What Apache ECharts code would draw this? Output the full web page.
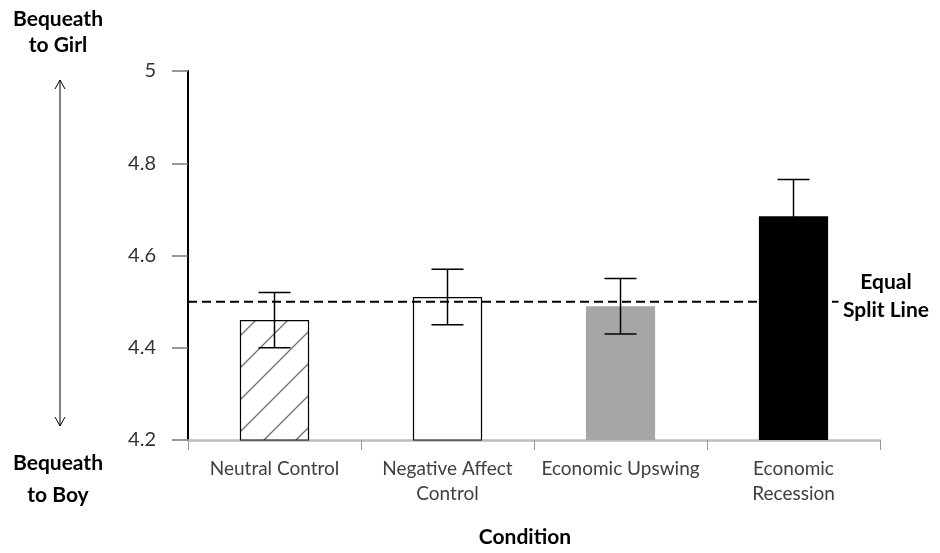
<!DOCTYPE html>
<html><head><meta charset="utf-8">
<script src="https://cdn.jsdelivr.net/npm/echarts@6/dist/echarts.min.js"></script>
<style>html,body{margin:0;padding:0;background:#fff}#c{width:940px;height:553px}</style>
</head><body><div id="c"></div>
<script>
const categories = ['Neutral Control', 'Negative Affect\nControl', 'Economic Upswing', 'Economic\nRecession'];
const means = [4.46, 4.51, 4.49, 4.685];
const errors = [0.06, 0.06, 0.06, 0.08];
const yMin = 4.2, yMax = 5, yStep = 0.2;
const splitValue = 4.5;
const splitLineRange = [-0.5, 3.26];

const FONT = 'Lato, "Open Sans", sans-serif';

// hatch pattern
const pc = document.createElement('canvas');
pc.width = 32; pc.height = 32;
const g = pc.getContext('2d');
g.fillStyle = '#fff'; g.fillRect(0, 0, 32, 32);
g.strokeStyle = '#6e6e6e'; g.lineWidth = 1.3;
g.beginPath();
g.moveTo(-2, 34); g.lineTo(34, -2);
g.moveTo(-4, 4); g.lineTo(4, -4);
g.moveTo(28, 36); g.lineTo(36, 28);
g.stroke();

const barStyles = [
  { color: { image: pc, repeat: 'repeat' }, borderColor: '#000', borderWidth: 1.2 },
  { color: '#fff', borderColor: '#000', borderWidth: 1.2 },
  { color: '#a6a6a6' },
  { color: '#000' }
];

const chart = echarts.init(document.getElementById('c'), null, { renderer: 'canvas' });
chart.setOption({
  backgroundColor: '#fff',
  animation: false,
  grid: { left: 188, right: 60, top: 71, bottom: 113 },
  xAxis: [{
    type: 'category',
    data: categories,
    axisLine: { lineStyle: { color: '#bdbdbd', width: 2.5 } },
    axisTick: { show: true, length: 10, lineStyle: { color: '#999', width: 1 } },
    axisLabel: { interval: 0, color: '#404040', fontSize: 19, fontFamily: FONT, margin: 16, lineHeight: 25 }
  }, {
    type: 'value', min: -0.5, max: 3.5, show: false
  }],
  yAxis: {
    type: 'value', min: yMin, max: yMax, interval: yStep,
    axisLine: { show: true, onZero: false, lineStyle: { color: '#000', width: 2 } },
    axisTick: { show: true, length: 16, lineStyle: { color: '#777', width: 1.5 } },
    splitLine: { show: false },
    axisLabel: { color: '#333', fontSize: 20, fontFamily: FONT, margin: 32,
      formatter: v => String(+(+v).toFixed(1)) }
  },
  series: [{
    type: 'bar',
    barWidth: '40%',
    data: means.map((m, i) => ({ value: m, itemStyle: barStyles[i] })),
    z: 2
  }, {
    type: 'line',
    xAxisIndex: 1,
    data: splitLineRange.map(x => [x, splitValue]),
    symbol: 'none',
    lineStyle: { color: '#000', width: 2, type: [9, 5] },
    z: 3
  }, {
    type: 'custom',
    z: 4,
    data: means.map((m, i) => [i, m - errors[i], m + errors[i]]),
    renderItem(params, api) {
      const x = api.value(0);
      const lo = api.coord([x, api.value(1)]);
      const hi = api.coord([x, api.value(2)]);
      const hw = 16;
      const st = { stroke: '#000', lineWidth: 1.5 };
      return { type: 'group', children: [
        { type: 'line', shape: { x1: lo[0], y1: lo[1], x2: hi[0], y2: hi[1] }, style: st },
        { type: 'line', shape: { x1: lo[0] - hw, y1: lo[1], x2: lo[0] + hw, y2: lo[1] }, style: st },
        { type: 'line', shape: { x1: hi[0] - hw, y1: hi[1], x2: hi[0] + hw, y2: hi[1] }, style: st }
      ]};
    }
  }],
  graphic: [
    { type: 'text', x: 58, y: 6, style: { text: 'Bequeath\nto Girl', fontFamily: FONT, fontWeight: 'bold', fontSize: 21, lineHeight: 26, fill: '#000', align: 'center' } },
    { type: 'text', x: 58, y: 447, style: { text: 'Bequeath\nto Boy', fontFamily: FONT, fontWeight: 'bold', fontSize: 21, lineHeight: 32, fill: '#000', align: 'center' } },
    { type: 'text', x: 886, y: 268, style: { text: 'Equal\nSplit Line', fontFamily: FONT, fontWeight: 'bold', fontSize: 21, lineHeight: 28, fill: '#000', align: 'center' } },
    { type: 'text', x: 525, y: 527, style: { text: 'Condition', fontFamily: FONT, fontWeight: 'bold', fontSize: 21, fill: '#000', align: 'center' } },
    { type: 'group', children: [
      { type: 'line', shape: { x1: 60, y1: 80, x2: 60, y2: 426 }, style: { stroke: '#000', lineWidth: 1 } },
      { type: 'polyline', shape: { points: [[55, 89], [60, 80], [65, 89]] }, style: { stroke: '#000', lineWidth: 1, fill: null } },
      { type: 'polyline', shape: { points: [[55, 417], [60, 426], [65, 417]] }, style: { stroke: '#000', lineWidth: 1, fill: null } }
    ]}
  ]
});
</script>
</body></html>
